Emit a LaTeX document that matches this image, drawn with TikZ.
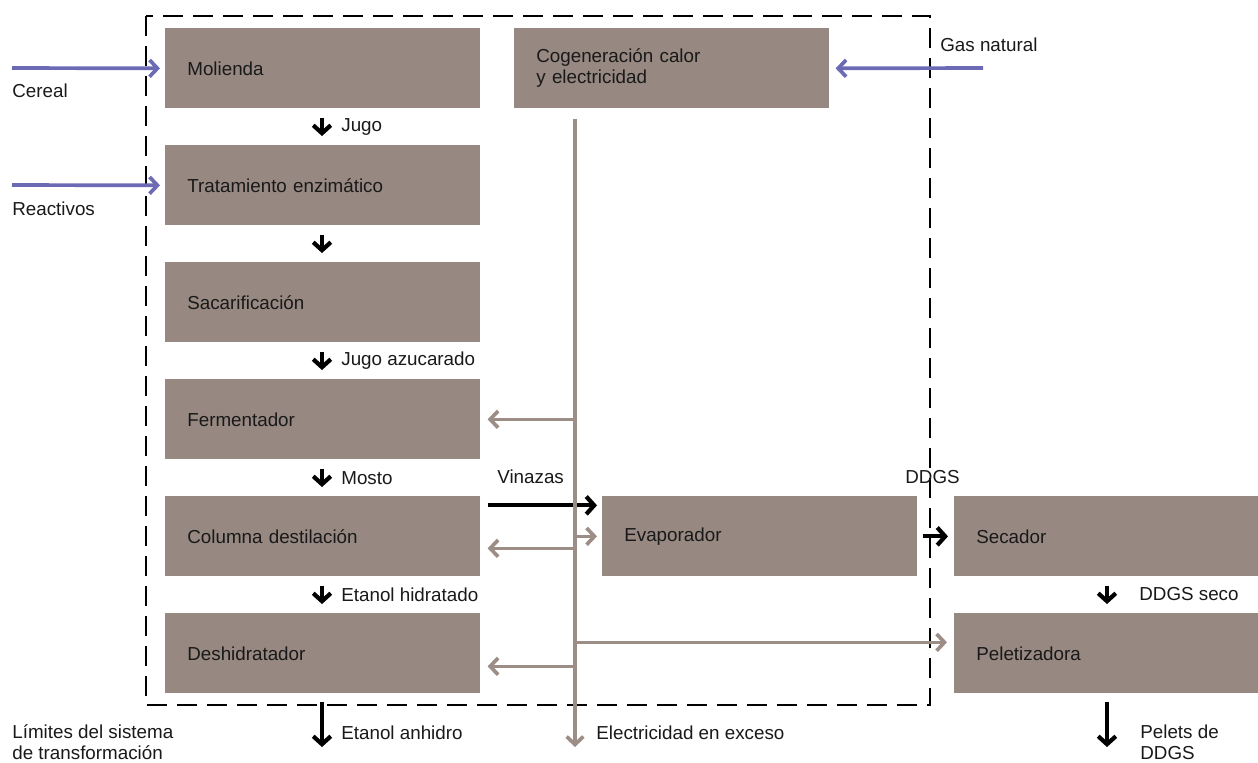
\documentclass[tikz,border=0pt]{standalone}
\usepackage{fontspec}
\setmainfont{Liberation Sans}
\usetikzlibrary{positioning,arrows.meta,calc}
\definecolor{cajagris}{RGB}{151,137,129}
\definecolor{calorgris}{RGB}{156,142,134}
\definecolor{entradaazul}{RGB}{108,106,180}
\definecolor{textonegro}{RGB}{25,25,25}

\begin{document}
\begin{tikzpicture}[x=0.02cm,y=-0.02cm,
  font=\fontsize{10.7}{12}\selectfont,text=textonegro,
  caja/.style={fill=cajagris,anchor=north west,minimum height=1.6cm,
    inner xsep=0.44cm,text width=#1,align=left},
  caja/.default=5.42cm,
  etiq/.style={anchor=west,inner sep=0pt,align=left},
  paso/.style={line width=2.4pt,-{Straight Barb[length=4.5pt,width=10pt]}},
  calor/.style={draw=calorgris,line width=2.1pt,-{Straight Barb[length=4.5pt,width=9.5pt]}},
  entra/.style={draw=entradaazul,line width=2.1pt,-{Straight Barb[length=4.5pt,width=9.5pt]}},
  limite/.style={line width=0.8pt,dash pattern=on 0.4cm off 0.2cm}]
\useasboundingbox (0,0) rectangle (1258,762);
% Limites del sistema
\draw[limite] (146,16) rectangle (930,705);
% Proceso principal
\node[caja] (mol) at (165,28) {Molienda};
\node[caja] (trat) at (165,145) {Tratamiento enzimático};
\node[caja] (sac) at (165,262) {Sacarificación};
\node[caja] (ferm) at (165,379) {Fermentador};
\node[caja] (col) at (165,496) {Columna destilación};
\node[caja] (desh) at (165,613) {Deshidratador};
\node[caja] (cog) at (514,28) {Cogeneración calor\\y electricidad};
\node[caja] (evap) at (602,496) {Evaporador};
\node[caja=5.2cm] (sec) at (954,496) {Secador};
\node[caja=5.2cm] (pel) at (954,613) {Peletizadora};
% Etiquetas
\node[etiq] (lcer) at (12,91) {Cereal};
\node[etiq] (lrea) at (12,209) {Reactivos};
\node[etiq] (lgas) at (940,45) {Gas natural};
\node[etiq] (ljug) at (341,127) {Jugo};
\node[etiq] (lazu) at (341,361) {Jugo azucarado};
\node[etiq] (lmos) at (341,478) {Mosto};
\node[etiq] (lhid) at (341,595) {Etanol hidratado};
\node[etiq] (lanh) at (341,733) {Etanol anhidro};
\node[etiq] (lvin) at (497,477) {Vinazas};
\node[etiq] (lddgs) at (905,477) {DDGS};
\node[etiq] (lsec) at (1139,594) {DDGS seco};
\node[etiq] (lele) at (596,733) {Electricidad en exceso};
\node[etiq] (lpel) at (1140,742) {Pelets de\\DDGS};
\node[etiq] (llim) at (12,742) {Límites del sistema\\de transformación};
% Flujo de proceso
\foreach \a/\b in {mol/trat,trat/sac,sac/ferm,ferm/col,col/desh}
  \draw[paso] ($(\a.south west)+(157,9)$) -- ($(\b.north west)+(157,-9)$);
\coordinate (anh) at (322,747);
\draw[paso] ($(desh.south west)+(157,8)$) -- (anh);
\draw[paso] ($(col.east)+(7,-31)$) -- ($(evap.west)+(-5,-31)$);
\draw[paso] ($(evap.east)+(5,0)$) -- ($(sec.west)+(-6,0)$);
\draw[paso] ($(sec.south west)+(153,9)$) -- ($(pel.north west)+(153,-9)$);
\coordinate (pfin) at (1107,747);
\draw[paso] ($(pel.south west)+(153,8)$) -- (pfin);
% Entradas
\coordinate (cer0) at (12,68);
\coordinate (rea0) at (12,185);
\coordinate (gas0) at (983,68);
\draw[entra] (cer0) -- ($(mol.west)+(-5,0)$);
\draw[entra] (rea0) -- ($(trat.west)+(-5,0)$);
\draw[entra] (gas0) -- ($(cog.east)+(6,0)$);
% Calor y electricidad
\coordinate (e0) at ($(cog.south west)+(61,10)$);
\coordinate (e1) at (575,747);
\draw[calor] (e0) -- (e1);
\draw[calor] (e0 |- ferm.east) -- ($(ferm.east)+(7,0)$);
\draw[calor] ($(e0 |- col.east)+(0,12)$) -- ($(col.east)+(7,12)$);
\draw[calor] (e0 |- evap.west) -- ($(evap.west)+(-5,0)$);
\draw[calor] ($(e0 |- desh.east)+(0,13)$) -- ($(desh.east)+(7,13)$);
\draw[calor] ($(e0 |- pel.west)+(0,-11)$) -- ($(pel.west)+(-7,-11)$);
\end{tikzpicture}
\end{document}
